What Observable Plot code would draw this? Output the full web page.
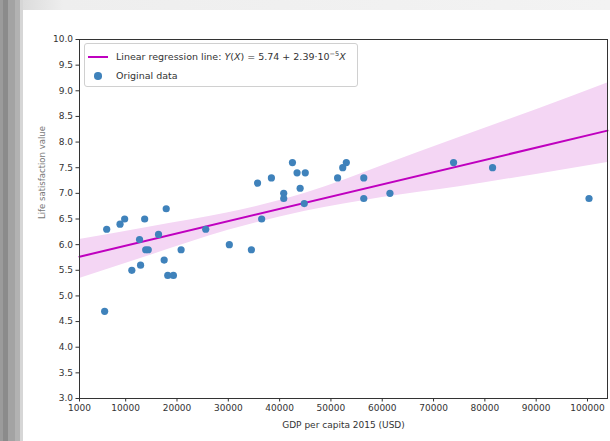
<!DOCTYPE html>
<html>
<head>
<meta charset="utf-8">
<script src="https://cdn.jsdelivr.net/npm/d3@7"></script>
<script src="https://cdn.jsdelivr.net/npm/@observablehq/plot@0.6"></script>
<style>
  html, body { margin: 0; padding: 0; background: #fff; width: 610px; height: 441px; overflow: hidden; }
  #wrap { position: relative; width: 610px; height: 441px; font-family: "DejaVu Sans", sans-serif; }
  #stripes { position: absolute; left: 0; top: 0; width: 23px; height: 441px;
    background: linear-gradient(to right, #9b9b9b 0px, #9b9b9b 3px, #8b8b8b 3px, #8b8b8b 8px, #a3a3a3 8px, #a3a3a3 15px, #b2b2b2 15px, #b2b2b2 20px, #d6d6d6 20px, #d6d6d6 23px); }
  #topband { position: absolute; left: 23px; top: 0; width: 587px; height: 10px;
    background: linear-gradient(to right, #dcdcdc 0px, #eeeeee 40px, #f3f3f3 100%); }
  #chart { position: absolute; left: 0; top: 0; }
  #legend { position: absolute; left: 84px; top: 43px; width: 272px; height: 42px;
    border: 1px solid #d0d0d0; border-radius: 3px; background: rgba(255,255,255,0.85);
    font-size: 9.5px; color: #333; }
  .row { position: absolute; left: 0; height: 12px; line-height: 12px; white-space: nowrap; }
  .swatch-line { position: absolute; left: 3px; top: 5px; width: 20px; height: 2px; background: #bf00bf; }
  .swatch-dot { position: absolute; left: 9px; top: 2px; width: 7.5px; height: 7.5px; border-radius: 50%; background: #3f82bb; }
  .lbl { position: absolute; left: 31px; top: 0; }
  .lbl sup { font-size: 6.5px; vertical-align: 4px; line-height: 0; }
</style>
</head>
<body>
<div id="wrap">
  <div id="stripes"></div>
  <div id="topband"></div>
  <div id="chart"></div>
  <div id="legend">
    <div class="row" style="top:7px;width:270px;">
      <div class="swatch-line"></div>
      <div class="lbl">Linear regression line: <i>Y</i>(<i>X</i>) = 5.74 + 2.39·10<sup>−5</sup><i>X</i></div>
    </div>
    <div class="row" style="top:26px;width:270px;">
      <div class="swatch-dot"></div>
      <div class="lbl">Original data</div>
    </div>
  </div>
</div>
<script>
// GDP per capita 2015 (USD) and life satisfaction values
const gdp = [6300, 5900, 8900, 9800, 11200, 12700, 12900, 13700, 13900, 14400,
             16400, 17900, 17500, 18200, 19300, 20800, 25600, 30200, 34500, 35700,
             36500, 38400, 40800, 40800, 42500, 43400, 45000, 44000, 44800, 51300,
             52300, 53000, 56400, 56400, 61500, 73900, 81500, 100300];
const lifeSat = [6.3, 4.7, 6.4, 6.5, 5.5, 6.1, 5.6, 6.5, 5.9, 5.9,
                 6.2, 6.7, 5.7, 5.4, 5.4, 5.9, 6.3, 6.0, 5.9, 7.2,
                 6.5, 7.3, 7.0, 6.9, 7.6, 7.4, 7.4, 7.1, 6.8, 7.3,
                 7.5, 7.6, 7.3, 6.9, 7.0, 7.6, 7.5, 6.9];

// regression coefficients (from the legend)
const intercept = 5.74;
const slope = 2.39e-5;
const lineX = [1000, 103900];

// confidence band edges
const bandX  = [1000, 15000, 30000, 45000, 60000, 75000, 90000, 103900];
const bandLo = [5.34, 5.80, 6.28, 6.65, 6.92, 7.13, 7.37, 7.60];
const bandHi = [6.10, 6.35, 6.62, 7.00, 7.54, 8.09, 8.63, 9.15];

// tick labels
const xTicks = [1000, 10000, 20000, 30000, 40000, 50000, 60000, 70000, 80000, 90000, 100000];
const yTicks = [3.0, 3.5, 4.0, 4.5, 5.0, 5.5, 6.0, 6.5, 7.0, 7.5, 8.0, 8.5, 9.0, 9.5, 10.0];

const points = gdp.map((g, i) => ({x: g, y: lifeSat[i]}));
const line = lineX.map(x => ({x, y: intercept + slope * x}));
const band = bandX.map((x, i) => ({x, lo: bandLo[i], hi: bandHi[i]}));

const chart = Plot.plot({
  width: 610,
  height: 441,
  marginLeft: 79,
  marginRight: 3,
  marginTop: 39,
  marginBottom: 43,
  style: {fontFamily: "DejaVu Sans", fontSize: "9px", color: "#333", background: "transparent"},
  x: {domain: [1000, 103900], label: null},
  y: {domain: [3, 10], label: null},
  marks: [
    Plot.areaY(band, {x: "x", y1: "lo", y2: "hi", fill: "#f4d6f4", curve: "monotone-x"}),
    Plot.line(line, {x: "x", y: "y", stroke: "#bf00bf", strokeWidth: 2}),
    Plot.dot(points, {x: "x", y: "y", r: 3.6, fill: "#3f82bb", stroke: "none"}),
    Plot.frame({stroke: "#333", strokeWidth: 1}),
    Plot.axisX({ticks: xTicks, tickFormat: d => String(d), tickSize: 3.5, tickPadding: 3, label: null, stroke: "#333"}),
    Plot.axisY({ticks: yTicks, tickFormat: d => d.toFixed(1), tickSize: 3.5, tickPadding: 3, label: null, stroke: "#333"}),
    Plot.text(["GDP per capita 2015 (USD)"], {frameAnchor: "bottom", dy: 29, text: d => d, fontSize: 9, fill: "#333"}),
    Plot.text(["Life satisfaction value"], {frameAnchor: "left", dx: -37, rotate: -90, text: d => d, fontSize: 8.5, fill: "#777"})
  ]
});
document.getElementById("chart").appendChild(chart);
</script>
</body>
</html>
